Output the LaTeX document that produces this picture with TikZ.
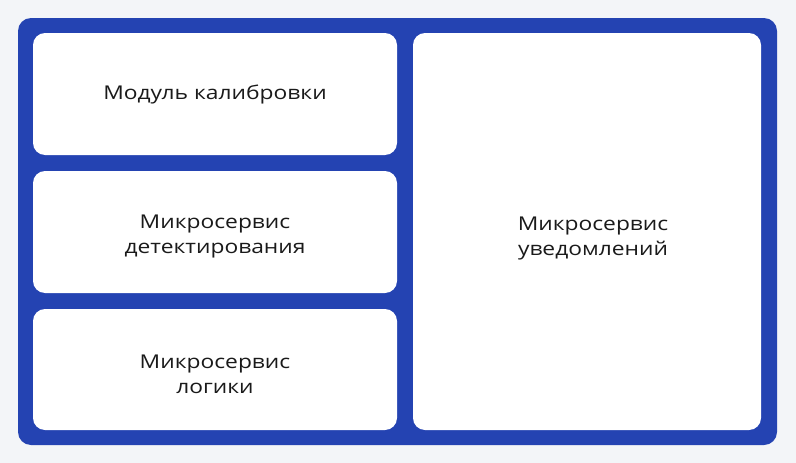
\documentclass[tikz,border=0pt]{standalone}
\usepackage{fontspec}
\setmainfont{Open Sans}[FakeStretch=1.2]
\definecolor{bg}{HTML}{F3F5F8}
\definecolor{frameblue}{HTML}{2443B2}
\definecolor{txt}{HTML}{1A1A1A}
\begin{document}
\begin{tikzpicture}[x=1pt,y=-1pt,
  card/.style={fill=white,draw=none,rounded corners=12pt},
  lbl/.style={text=txt,font=\fontsize{19}{25}\selectfont,align=center}]
\fill[bg] (0,0) rectangle (796,463);
\useasboundingbox (0,0) rectangle (796,463);
\fill[frameblue,rounded corners=13pt] (18,18) rectangle (777,445);
\fill[card] (33,33) rectangle (397,155);
\fill[card] (33,171) rectangle (397,293);
\fill[card] (33,309) rectangle (397,430);
\fill[card] (413,33) rectangle (761,430);
\node[lbl] (a) at (215,95) {Модуль калибровки};
\node[lbl] (b) at (215,236) {Микросервис\\детектирования};
\node[lbl] (c) at (215,374) {Микросервис\\логики};
\node[lbl] (d) at (593,238) {Микросервис\\уведомлений};
\end{tikzpicture}
\end{document}
